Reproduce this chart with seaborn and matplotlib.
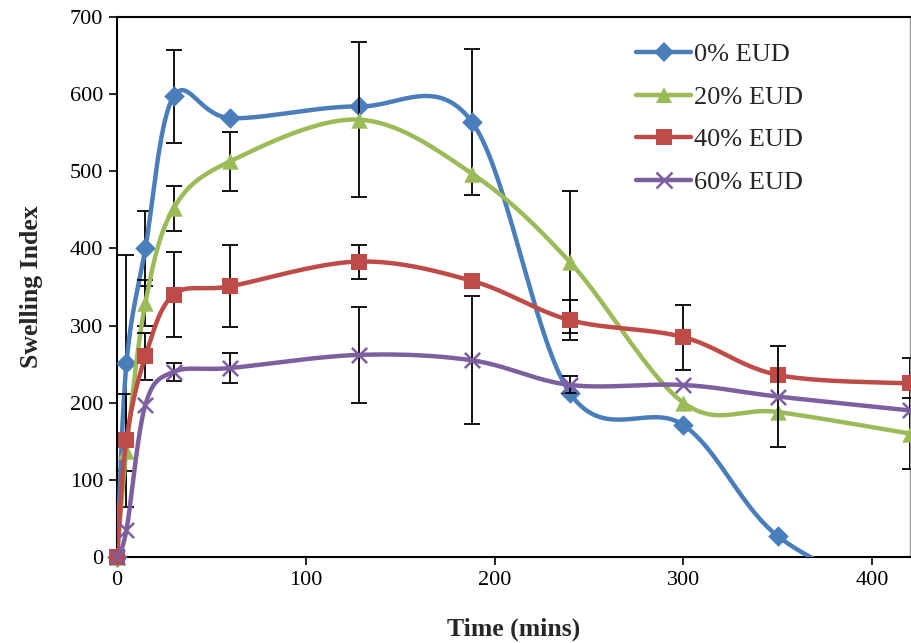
import numpy as np
import pandas as pd
import matplotlib
matplotlib.use("Agg")
import matplotlib.pyplot as plt
from matplotlib.lines import Line2D
import seaborn as sns

# values
time = [0, 5, 15, 30, 60, 128, 188, 240, 300, 350, 420]
eud0 = [0, 251, 400, 597, 569, 584, 564, 212, 171, 27, -60]
eud0_err = [0, 140, 49, 60, 0, 0, 95, 0, 0, 0, 0]
eud20 = [0, 138, 329, 452, 513, 567, 497, 382, 200, 188, 160]
eud20_err = [0, 73, 30, 29, 38, 100, 0, 92, 0, 0, 46]
eud40 = [0, 152, 260, 340, 351, 383, 358, 307, 285, 236, 225]
eud40_err = [0, 0, 30, 55, 53, 22, 0, 26, 42, 0, 33]
eud60 = [0, 35, 197, 240, 245, 262, 255, 223, 223, 208, 190]
eud60_err = [0, 0, 0, 12, 19, 62, 83, 11, 0, 66, 0]

labels = ["0% EUD", "20% EUD", "40% EUD", "60% EUD"]
colors = ["#4A7EBB", "#9BBB59", "#BE4B48", "#7D5FA0"]
marks = ["D", "^", "s", "x"]

sns.set_style("ticks")
plt.rcParams["font.family"] = ["Liberation Serif", "DejaVu Serif"]

fig = plt.figure(figsize=(9.11, 6.43), dpi=100)
ax = fig.add_axes([117 / 911, 1 - 557 / 643, 793 / 911, 540 / 643])
xmax, ymax = 420, 700
sx, sy = 793 / xmax, 540 / ymax  # px per unit, smoothing done in screen space like Excel


def smooth(x, y, n=40):
    p = np.column_stack([np.asarray(x, float) * sx, np.asarray(y, float) * sy])
    out = []
    for i in range(len(p) - 1):
        p0 = p[max(i - 1, 0)]
        p3 = p[min(i + 2, len(p) - 1)]
        c1 = p[i] + (p[i + 1] - p0) / 6
        c2 = p[i + 1] - (p3 - p[i]) / 6
        t = np.linspace(0, 1, n)[:, None]
        seg = ((1 - t) ** 3 * p[i] + 3 * (1 - t) ** 2 * t * c1
               + 3 * (1 - t) * t ** 2 * c2 + t ** 3 * p[i + 1])
        out.append(seg if i == 0 else seg[1:])
    out = np.vstack(out)
    return out[:, 0] / sx, out[:, 1] / sy


series = [eud0, eud20, eud40, eud60]
errs = [eud0_err, eud20_err, eud40_err, eud60_err]

for i, (lab, vals, err) in enumerate(zip(labels, series, errs)):
    z = 3 + i
    e = np.array(err, float)
    m = e > 0
    ax.errorbar(np.array(time)[m], np.array(vals)[m], yerr=e[m], fmt="none",
                ecolor="black", elinewidth=1.3, capsize=6, capthick=1.3, zorder=z - 0.5)
    cx, cy = smooth(time, vals)
    curve = pd.DataFrame({"t": cx, "v": cy})
    sns.lineplot(data=curve, x="t", y="v", sort=False, estimator=None, color=colors[i],
                 lw=3.2, ax=ax, zorder=z, solid_capstyle="round")
    pts = pd.DataFrame({"t": time, "v": vals})
    pts = pts[pts["v"] >= 0]
    if marks[i] == "x":
        sns.scatterplot(data=pts, x="t", y="v", marker="x", s=120, color=colors[i],
                        linewidth=1.8, ax=ax, zorder=z + 0.5, clip_on=False)
    else:
        sns.scatterplot(data=pts, x="t", y="v", marker=marks[i],
                        s=140 if marks[i] != "D" else 110, color=colors[i],
                        edgecolor=colors[i], linewidth=0, ax=ax, zorder=z + 0.5, clip_on=False)

ax.set_xlim(0, xmax)
ax.set_ylim(0, ymax)
ax.set_xticks([0, 100, 200, 300, 400])
ax.set_yticks(range(0, 701, 100))
ax.tick_params(axis="both", direction="out", length=6, width=1.2, labelsize=16,
               colors="black", pad=4)
for s in ["left", "bottom", "top"]:
    ax.spines[s].set_color("black")
    ax.spines[s].set_linewidth(1.5)
ax.spines["right"].set_color("#999999")
ax.spines["right"].set_linewidth(1.0)

ax.set_xlabel("Time (mins)", fontsize=18.5, fontweight="bold", labelpad=20)
ax.set_ylabel("Swelling Index", fontsize=18.5, fontweight="bold", labelpad=19)

handles = [Line2D([0], [0], color=c, lw=3.2, marker=mk, markersize=11.5 if mk != "D" else 10.5,
                  markeredgewidth=1.8 if mk == "x" else 0, markeredgecolor=c)
           for c, mk in zip(colors, marks)]
ax.legend(handles, labels, loc="upper left", bbox_to_anchor=(636 / 911, 1 - 43 / 643),
          bbox_transform=fig.transFigure, frameon=False, fontsize=19,
          handlelength=2.1, handletextpad=0.1, labelspacing=0.72, borderaxespad=0,
          borderpad=0)

fig.savefig("out.png", dpi=100)
